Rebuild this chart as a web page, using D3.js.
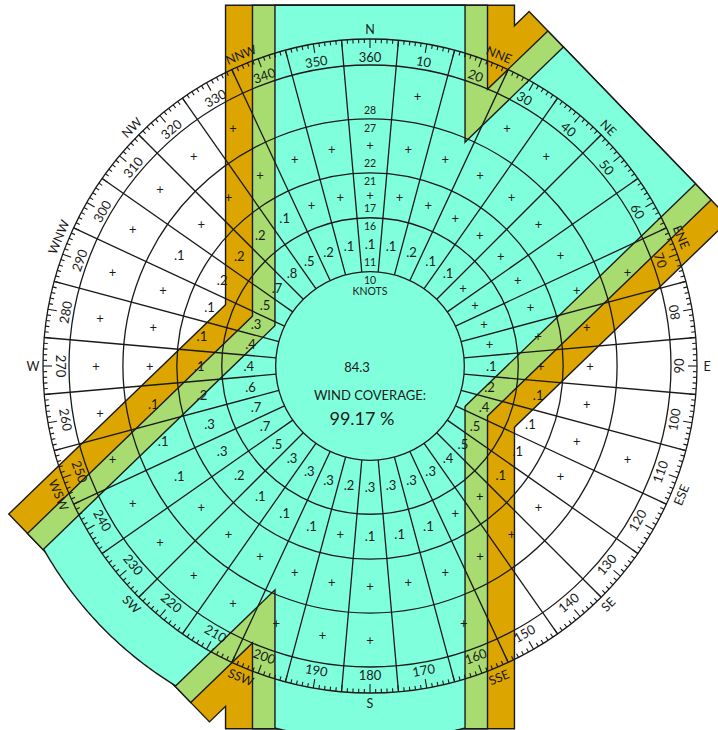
<!DOCTYPE html>
<html><head><meta charset="utf-8">
<script src="https://cdnjs.cloudflare.com/ajax/libs/d3/7.8.5/d3.min.js"></script>
<style>html,body{margin:0;padding:0;background:#fff}svg{display:block}</style>
</head><body>
<svg id="chart" width="718" height="730"></svg>
<script>
// ---------------- data ----------------
const directions = [0,10,20,30,40,50,60,70,80,90,100,110,120,130,140,150,160,170,
                    180,190,200,210,220,230,240,250,260,270,280,290,300,310,320,330,340,350];
const degreeLabels = ["360","10","20","30","40","50","60","70","80","90","100","110","120","130","140","150","160","170",
                      "180","190","200","210","220","230","240","250","260","270","280","290","300","310","320","330","340","350"];
// 11-16 knots
const ring1 = [".1",".1",".2",".1",".1","+","+","+","+",".1",".2",".4",".5",".5",".4",".3",".3",".3",
               ".3",".2",".3",".3",".3",".5",".7",".7",".6",".4",".4",".3",".5",".7",".8",".5",".2",".1"];
// 17-21 knots
const ring2 = ["+","+","+","+","+","+","+","+","+","+",".1",".1",".1",".1","+","+",".1",".1",
               ".1","+",".1",".1",".1",".2",".3",".3",".2",".1",".1",".1",".2",".2",".2",".1","+","+"];
// 22-27 knots
const ring3 = ["+","+","+","+","+","+","+","+","+","+","+","+","+","+","+","+","+","+",
               "+","+","+","+","+","+",".1",".1",".1","+","+","+",".1","+","+","+","+","+"];
// 28+ knots
const ring4 = ["","+","","+","+","","","+","","","","+","","","","","+","",
               "+","+","+","+","+","+","+","+","+","+","+","+","+","+","+","+","",""];
const rings = [ring1, ring2, ring3, ring4];
const ringBounds = [10.5, 16.5, 21.5, 27.5, 33.5];          // knots
const ringLabelsLow  = ["10","16","21","27"];
const ringLabelsHigh = ["11","17","22","28"];
const runwayHeadings = [0, 46];                              // degrees true
const crosswindLimits = [16, 13, 10.5];                      // knots
const bandColors = ["#dca500", "#a8dc70", "#80ffdc"];
const compassPoints = ["N","NNE","NE","ENE","E","ESE","SE","SSE","S","SSW","SW","WSW","W","WNW","NW","NNW"];
const calmValue = "84.3";
const coverageTitle = "WIND COVERAGE:";
const coverageValue = "99.17 %";

// ---------------- layout ----------------
const cx = 370, cy = 366;
const rScale = d3.scaleLinear().domain([0, 33.5]).range([0, 301]);
const tickRingR = 327, degLabelR = 309, compassR = 337;
const bandTop = 360, bandBottom = -362, cyanClipR = 373.5;
const font = "Lato, 'Noto Sans', sans-serif";
const ink = "#1a1a1a";

const svg = d3.select("#chart");
const toRad = d => d * Math.PI / 180;
const polar = (deg, r) => [cx + r * Math.sin(toRad(deg)), cy - r * Math.cos(toRad(deg))];
const line = d3.line();

function bandPoints(h, w, arcEnd) {
  const a = toRad(h);
  const u = [Math.sin(a), -Math.cos(a)], nv = [Math.cos(a), Math.sin(a)];
  const P = (al, n) => [cx + al * u[0] + n * nv[0], cy + al * u[1] + n * nv[1]];
  if (!arcEnd) return [P(bandTop, -w), P(bandTop, w), P(bandBottom, w), P(bandBottom, -w)];
  const phi1 = Math.atan2(w, -Math.sqrt(cyanClipR * cyanClipR - w * w));
  const pts = [P(bandTop, -w), P(bandTop, w)];
  d3.range(0, 61).forEach(i => {
    const phi = phi1 + (2 * Math.PI - 2 * phi1) * i / 60;
    pts.push(P(cyanClipR * Math.cos(phi), cyanClipR * Math.sin(phi)));
  });
  return pts;
}

// ---------------- crosswind bands ----------------
const gb = svg.append("g");
crosswindLimits.forEach((kt, i) => {
  const w = rScale(kt);
  const isCore = i === crosswindLimits.length - 1;
  runwayHeadings.forEach(h => {
    gb.append("path").attr("d", line(bandPoints(h, w, isCore)) + "Z")
      .attr("fill", "none").attr("stroke", ink).attr("stroke-width", 2.8)
      .attr("stroke-linejoin", "miter");
  });
  runwayHeadings.forEach(h => {
    gb.append("path").attr("d", line(bandPoints(h, w, isCore)) + "Z")
      .attr("fill", bandColors[i]).attr("stroke", "none");
  });
});

// ---------------- grid ----------------
const gg = svg.append("g").attr("fill", "none").attr("stroke", ink).attr("stroke-width", 1.3);
ringBounds.forEach(kt => gg.append("circle").attr("cx", cx).attr("cy", cy).attr("r", rScale(kt)));
gg.append("circle").attr("cx", cx).attr("cy", cy).attr("r", tickRingR);
directions.forEach(d => {
  const a = d + 5;
  gg.append("path").attr("d", line([polar(a, rScale(ringBounds[0])), polar(a, tickRingR)]));
});
d3.range(0, 360, 1).forEach(d => {
  const len = d % 10 === 0 ? 9 : (d % 5 === 0 ? 6.5 : 4);
  gg.append("path").attr("stroke-width", 1.1)
    .attr("d", line([polar(d, tickRingR), polar(d, tickRingR - len)]));
});

// ---------------- texts ----------------
const gt = svg.append("g").attr("font-family", font).attr("fill", ink).attr("text-anchor", "middle");

// cell values
rings.forEach((vals, ri) => {
  const rm = (rScale(ringBounds[ri]) + rScale(ringBounds[ri + 1])) / 2;
  vals.forEach((v, di) => {
    if (!v) return;
    const [x, y] = polar(directions[di], rm);
    gt.append("text").attr("x", x).attr("y", y).attr("dy", "0.35em")
      .attr("font-size", 13).text(v);
  });
});

// degree labels
directions.forEach((d, i) => {
  const [x, y] = polar(d, degLabelR);
  const rot = (d >= 80 && d <= 270) ? d - 180 : d;
  gt.append("text").attr("transform", `translate(${x},${y}) rotate(${rot})`)
    .attr("dy", "0.36em").attr("font-size", 13).text(degreeLabels[i]);
});

// compass points
compassPoints.forEach((c, i) => {
  const d = i * 22.5;
  const [x, y] = polar(d, compassR);
  let rot = 0;
  if (i % 4 !== 0) rot = (d > 90 && d < 270) ? d - 180 : d;
  gt.append("text").attr("transform", `translate(${x},${y}) rotate(${rot})`)
    .attr("dy", "0.36em").attr("font-size", 12.5).text(c);
});

// knot labels on the north axis
ringBounds.slice(0, 4).forEach((kt, i) => {
  const r = rScale(kt);
  gt.append("text").attr("x", cx).attr("y", cy - r + 9).attr("dy", "0.35em")
    .attr("font-size", 10.5).text(ringLabelsLow[i]);
  gt.append("text").attr("x", cx).attr("y", cy - r - 9).attr("dy", "0.35em")
    .attr("font-size", 10.5).text(ringLabelsHigh[i]);
});
gt.append("text").attr("x", cx).attr("y", cy - rScale(ringBounds[0]) + 20).attr("dy", "0.35em")
  .attr("font-size", 10.5).text("KNOTS");

// centre
gt.append("text").attr("x", cx - 13).attr("y", cy + 1).attr("dy", "0.35em").attr("font-size", 13).text(calmValue);
gt.append("text").attr("x", cx).attr("y", cy + 29).attr("dy", "0.35em").attr("font-size", 13).text(coverageTitle);
gt.append("text").attr("x", cx - 8).attr("y", cy + 53).attr("dy", "0.35em").attr("font-size", 18).text(coverageValue);
</script>
</body></html>
